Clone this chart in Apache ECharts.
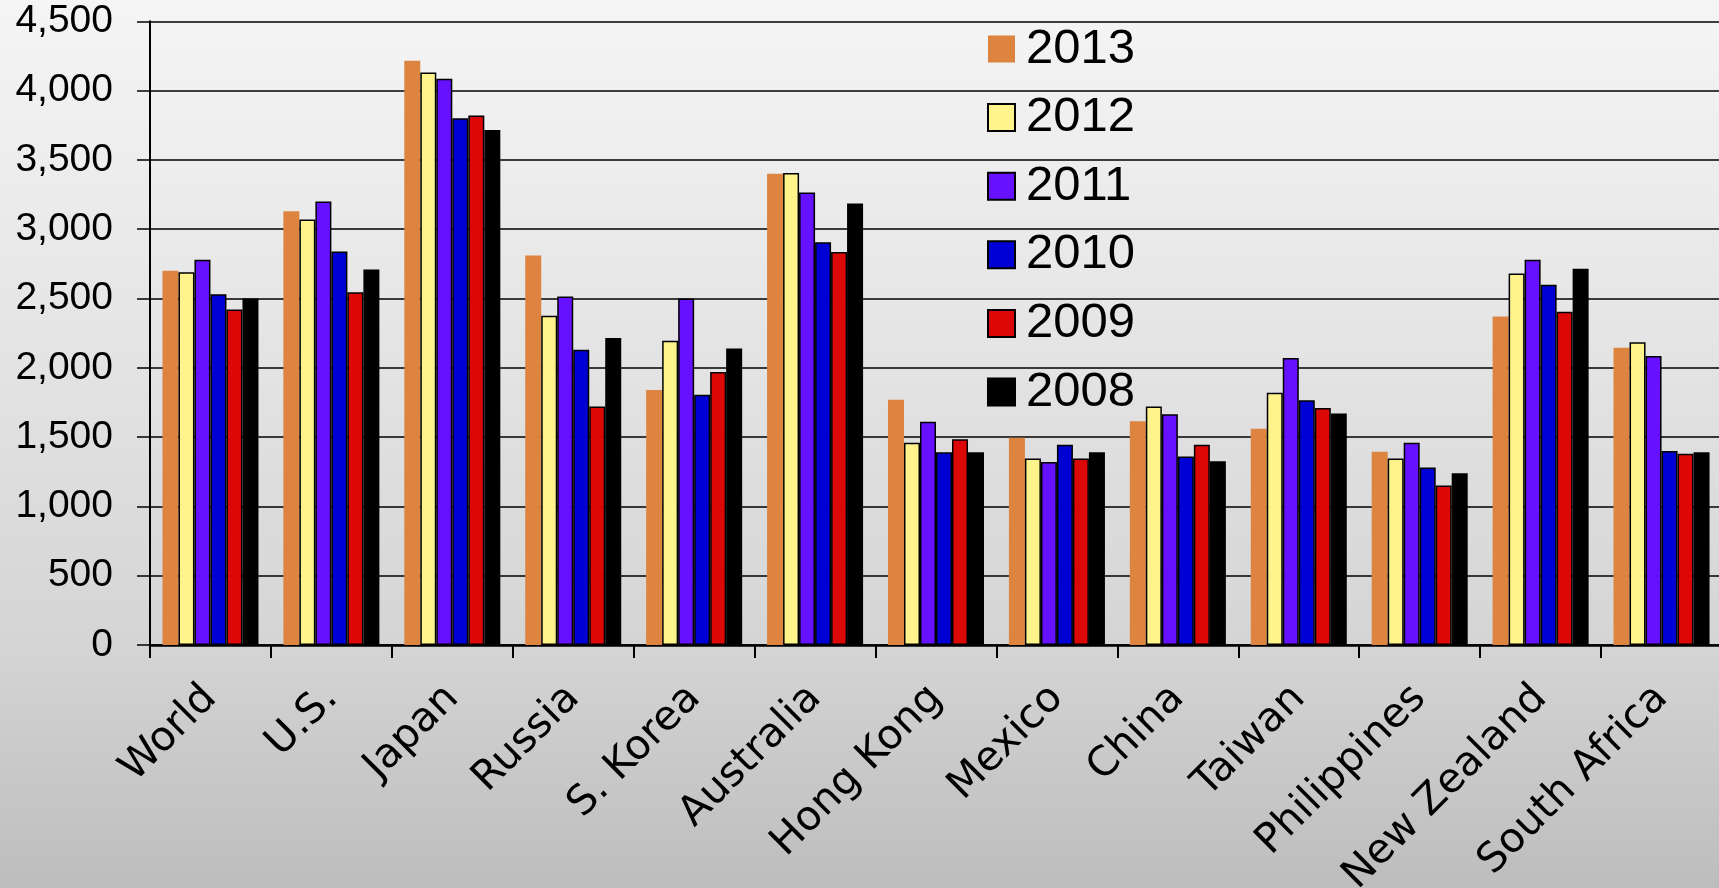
<!DOCTYPE html>
<html>
<head>
<meta charset="utf-8">
<style>
  html, body { margin: 0; padding: 0; width: 100%; height: 100%; overflow: hidden; }
  #chart { width: 1719px; height: 888px; }
</style>
<script src="https://cdn.jsdelivr.net/npm/echarts@6/dist/echarts.min.js"></script>
</head>
<body>
<div id="chart"></div>
<script>
// Markets along the category axis
const categories = ['World', 'U.S.', 'Japan', 'Russia', 'S. Korea', 'Australia', 'Hong Kong',
  'Mexico', 'China', 'Taiwan', 'Philippines', 'New Zealand', 'South Africa'];

// One series per year, newest first (legend order)
const years = ['2013', '2012', '2011', '2010', '2009', '2008'];
const v2013 = [2700, 3130, 4215, 2810, 1840, 3400, 1770, 1495, 1615, 1560, 1395, 2370, 2145];
const v2012 = [2690, 3070, 4130, 2375, 2195, 3405, 1460, 1345, 1720, 1820, 1345, 2680, 2185];
const v2011 = [2780, 3200, 4085, 2515, 2500, 3265, 1610, 1320, 1665, 2070, 1460, 2780, 2085];
const v2010 = [2530, 2840, 3800, 2130, 1805, 2905, 1390, 1445, 1360, 1765, 1280, 2600, 1400];
const v2009 = [2420, 2545, 3820, 1720, 1970, 2835, 1485, 1345, 1445, 1710, 1150, 2405, 1380];
const v2008 = [2500, 2710, 3715, 2215, 2140, 3185, 1390, 1390, 1325, 1670, 1240, 2715, 1390];
const seriesValues = [v2013, v2012, v2011, v2010, v2009, v2008];

// Value axis range
const yMin = 0;
const yMax = 4500;
const yStep = 500;

const colors = ['#DC8440', '#FFF38C', '#6611FF', '#0000D4', '#DC0808', '#000000'];

const chart = echarts.init(document.getElementById('chart'), null, { renderer: 'canvas' });

const series = years.map((y, i) => ({
  name: y,
  type: 'bar',
  data: seriesValues[i],
  barGap: '0%',
  barCategoryGap: '20.6%',
  itemStyle: {
    color: colors[i],
    borderColor: '#000',
    borderWidth: i === 0 ? 0 : 1.5
  }
}));

chart.setOption({
  animation: false,
  backgroundColor: {
    type: 'linear', x: 0, y: 0, x2: 0, y2: 1,
    colorStops: [
      { offset: 0, color: '#f5f5f5' },
      { offset: 0.35, color: '#e6e6e6' },
      { offset: 0.72, color: '#d5d5d5' },
      { offset: 1, color: '#bdbdbd' }
    ]
  },
  legend: {
    orient: 'vertical',
    left: 987,
    top: 24.5,
    padding: 0,
    icon: 'rect',
    itemWidth: 27,
    itemHeight: 27,
    itemGap: 19.6,
    selectedMode: false,
    textStyle: {
      fontFamily: 'Liberation Sans',
      fontSize: 49,
      lineHeight: 49,
      color: '#000',
      padding: [0, 0, 0, 6]
    },
    data: years
  },
  grid: {
    left: 150,
    top: 21.3,
    right: -3,
    bottom: 243,
    containLabel: false,
    outerBoundsMode: 'none'
  },
  xAxis: {
    type: 'category',
    data: categories,
    axisLine: { show: true, lineStyle: { color: '#000', width: 2.5 } },
    axisTick: { show: true, length: 13, lineStyle: { color: '#000', width: 2 } },
    axisLabel: {
      interval: 0,
      rotate: 45,
      margin: 47,
      fontFamily: 'DejaVu Sans',
      fontSize: 41,
      color: '#000'
    }
  },
  yAxis: {
    type: 'value',
    min: yMin,
    max: yMax,
    interval: yStep,
    axisLine: { show: true, lineStyle: { color: '#000', width: 2 } },
    axisTick: { show: true, length: 13, lineStyle: { color: '#000', width: 1.5 } },
    splitLine: { show: true, lineStyle: { color: '#000', width: 1.5 } },
    axisLabel: {
      margin: 37,
      fontFamily: 'Liberation Sans',
      fontSize: 39,
      color: '#000',
      formatter: v => v.toLocaleString('en-US')
    }
  },
  series: series
});
</script>
</body>
</html>
